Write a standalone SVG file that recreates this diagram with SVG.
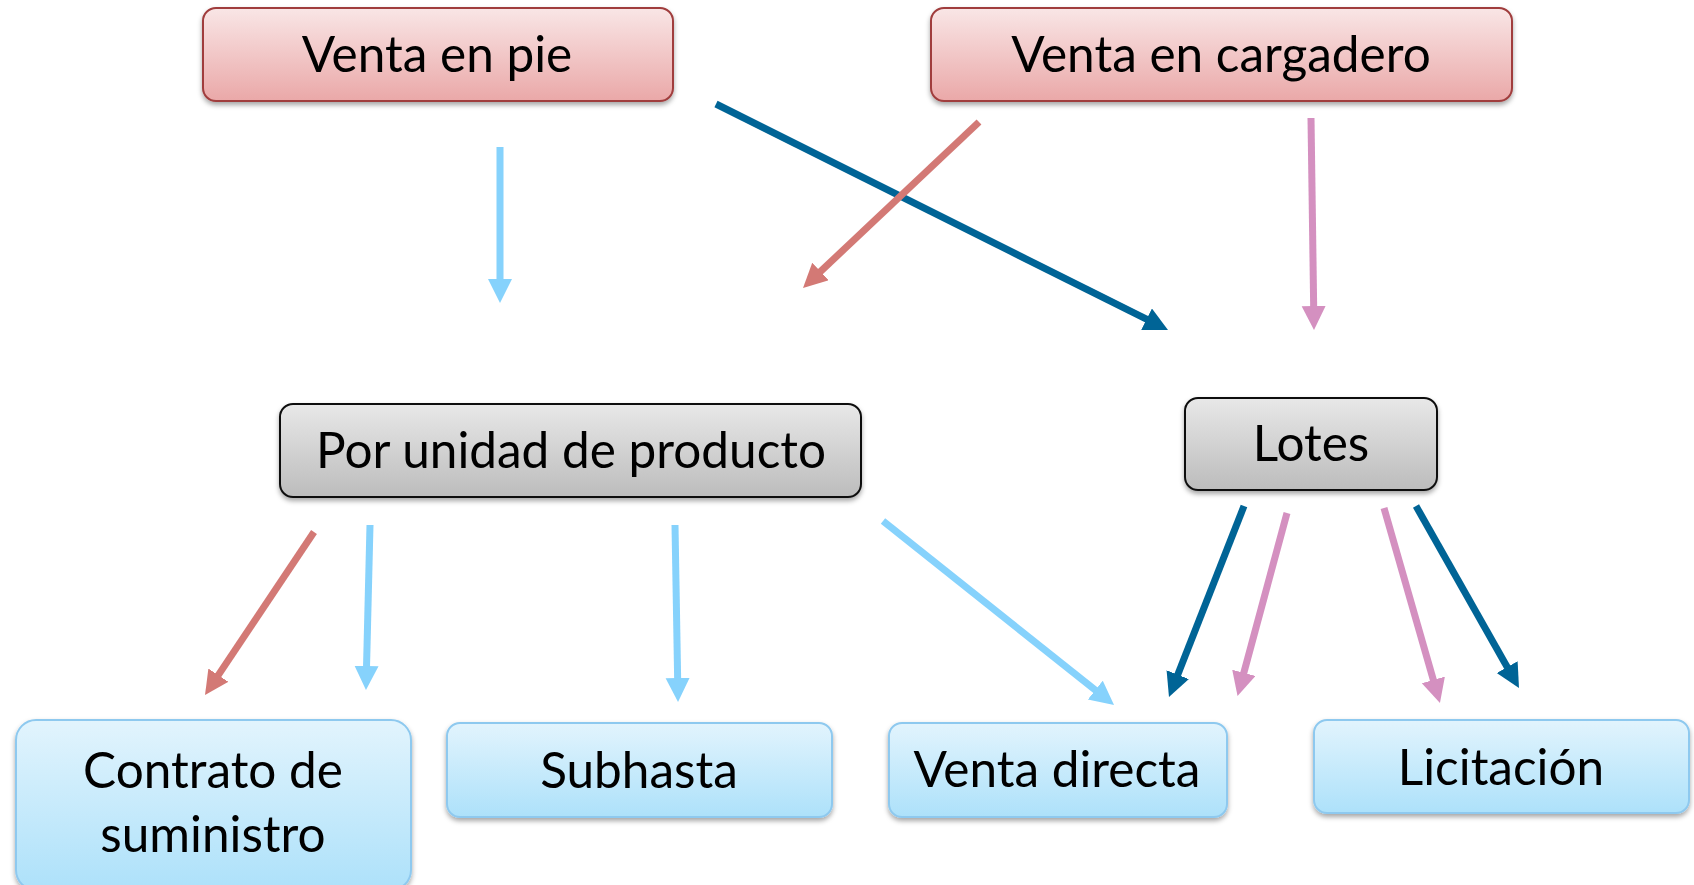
<svg xmlns="http://www.w3.org/2000/svg" width="1694" height="885" viewBox="0 0 1694 885">
<defs>
<linearGradient id="gRed" x1="0" y1="0" x2="0" y2="1"><stop offset="0" stop-color="#f9e6e6"/><stop offset="1" stop-color="#eaa8a8"/></linearGradient>
<linearGradient id="gGray" x1="0" y1="0" x2="0" y2="1"><stop offset="0" stop-color="#e8e8e8"/><stop offset="1" stop-color="#bcbcbc"/></linearGradient>
<linearGradient id="gBlue" x1="0" y1="0" x2="0" y2="1"><stop offset="0" stop-color="#e2f4fd"/><stop offset="1" stop-color="#ade1fa"/></linearGradient>
<filter id="sh" x="-10%" y="-10%" width="120%" height="130%"><feDropShadow dx="0" dy="3" stdDeviation="2.5" flood-color="#000" flood-opacity="0.35"/></filter>
<marker id="mLB" markerUnits="userSpaceOnUse" markerWidth="26" markerHeight="26" refX="10" refY="12" orient="auto"><path d="M0,0 L24,12 L0,24 z" fill="#86d2fc"/></marker>
<marker id="mDB" markerUnits="userSpaceOnUse" markerWidth="26" markerHeight="26" refX="10" refY="12" orient="auto"><path d="M0,0 L24,12 L0,24 z" fill="#006496"/></marker>
<marker id="mR" markerUnits="userSpaceOnUse" markerWidth="26" markerHeight="26" refX="10" refY="12" orient="auto"><path d="M0,0 L24,12 L0,24 z" fill="#d37975"/></marker>
<marker id="mP" markerUnits="userSpaceOnUse" markerWidth="26" markerHeight="26" refX="10" refY="12" orient="auto"><path d="M0,0 L24,12 L0,24 z" fill="#d490c0"/></marker>
</defs>
<style>
.red{fill:url(#gRed);stroke:#a03c3c;stroke-width:2}
.gray{fill:url(#gGray);stroke:#111;stroke-width:2}
.blue{fill:url(#gBlue);stroke:#8ec9ef;stroke-width:2}
text{font-family:Lato,"Open Sans",sans-serif;font-size:49.5px;fill:#000;text-anchor:middle}
.lb{stroke:#86d2fc;stroke-width:7;marker-end:url(#mLB)}
.db{stroke:#006496;stroke-width:7;marker-end:url(#mDB)}
.r{stroke:#d37975;stroke-width:7;marker-end:url(#mR)}
.p{stroke:#d490c0;stroke-width:7;marker-end:url(#mP)}
</style>
<rect width="1694" height="885" fill="#fff"/>
<g id="connectors" fill="none">
<line class="lb" x1="500" y1="147" x2="500" y2="289"/>
<line class="db" x1="716" y1="104" x2="1155.5" y2="323.7"/>
<line class="r" x1="979" y1="122" x2="813.2" y2="278.4"/>
<line class="p" x1="1311" y1="118" x2="1313.8" y2="316"/>
<line class="r" x1="314" y1="532" x2="212.8" y2="683.4"/>
<line class="lb" x1="370" y1="525" x2="366.3" y2="676"/>
<line class="lb" x1="675" y1="525" x2="677.8" y2="688"/>
<line class="lb" x1="883" y1="521" x2="1103.1" y2="696.3"/>
<line class="db" x1="1244" y1="506" x2="1174.1" y2="684"/>
<line class="p" x1="1287" y1="513" x2="1241.2" y2="682.5"/>
<line class="p" x1="1384" y1="508" x2="1436.1" y2="689.5"/>
<line class="db" x1="1416" y1="506" x2="1512.1" y2="675.8"/>
</g>
<g id="venta-en-pie"><rect class="red" filter="url(#sh)" x="203" y="8" width="470" height="93" rx="13"/><text x="437" y="72">Venta en pie</text></g>
<g id="venta-en-cargadero"><rect class="red" filter="url(#sh)" x="931" y="8" width="581" height="93" rx="13"/><text x="1221" y="72">Venta en cargadero</text></g>
<g id="por-unidad"><rect class="gray" filter="url(#sh)" x="280" y="404" width="581" height="93" rx="13"/><text x="571" y="468">Por unidad de producto</text></g>
<g id="lotes"><rect class="gray" filter="url(#sh)" x="1185" y="398" width="252" height="92" rx="13"/><text x="1311" y="461">Lotes</text></g>
<g id="contrato"><rect class="blue" filter="url(#sh)" x="16" y="720" width="395" height="170" rx="20"/><text x="213" y="788">Contrato de</text><text x="213" y="852">suministro</text></g>
<g id="subhasta"><rect class="blue" filter="url(#sh)" x="447" y="723" width="385" height="94" rx="13"/><text x="639" y="788">Subhasta</text></g>
<g id="venta-directa"><rect class="blue" filter="url(#sh)" x="889" y="723" width="338" height="94" rx="13"/><text x="1057" y="787">Venta directa</text></g>
<g id="licitacion"><rect class="blue" filter="url(#sh)" x="1314" y="720" width="375" height="93" rx="13"/><text x="1501" y="785">Licitación</text></g>
</svg>
